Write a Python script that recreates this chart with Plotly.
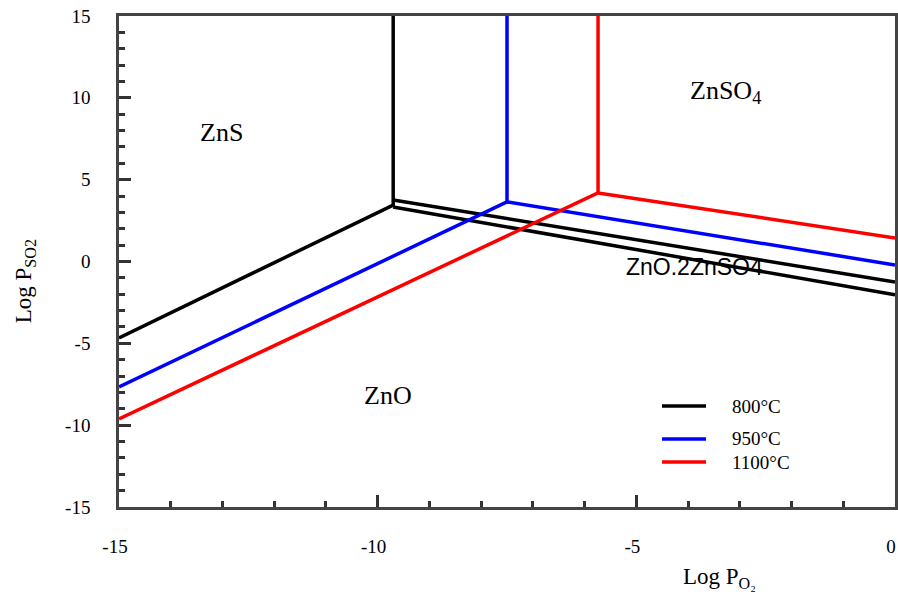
import plotly.graph_objects as go

# ---- data ----
x_left = -15.0
x_right = 0.0
y_top = 15.0

# 800 °C (black)
black_node_x = -9.70
black_diag_y = [-4.67, 3.45]      # ZnS / ZnO boundary (left end, node)
black_upper_y = [3.76, -1.25]     # upper right boundary (node, right end)
black_lower_y = [3.33, -2.04]     # lower right boundary (node, right end)

# 950 °C (blue)
blue_node_x = -7.50
blue_diag_y = [-7.66, 3.64]
blue_right_y = [3.64, -0.21]

# 1100 °C (red)
red_node_x = -5.74
red_diag_y = [-9.62, 4.19]
red_right_y = [4.19, 1.44]

series_names = ["800°C", "950°C", "1100°C"]
series_colors = ["#000000", "#0000ff", "#ff0000"]

region_labels = ["ZnS", "ZnSO<sub>4</sub>", "ZnO"]
region_x = [-13.01, -3.27, -9.80]
region_y = [7.91, 10.36, -8.21]
mixed_label = "ZnO.2ZnSO4"
mixed_x = -3.885
mixed_y = -0.33

x_ticks = [-15, -10, -5, 0]
x_ticktext = ["-15", "-10", "-5", "0"]
y_ticks = [-15, -10, -5, 0, 5, 10, 15]
y_ticktext = ["-15", "-10", "-5", "0", "5", "10", "15"]

fig = go.Figure()

def add_line(xs, ys, color, width=3.5):
    fig.add_trace(go.Scatter(x=xs, y=ys, mode="lines",
                             line=dict(color=color, width=width),
                             showlegend=False, hoverinfo="skip"))

# black
add_line([x_left, black_node_x, black_node_x], [black_diag_y[0], black_diag_y[1], y_top], series_colors[0])
add_line([black_node_x, x_right], black_upper_y, series_colors[0])
add_line([black_node_x, x_right], black_lower_y, series_colors[0])
# blue
add_line([x_left, blue_node_x, blue_node_x], [blue_diag_y[0], blue_diag_y[1], y_top], series_colors[1])
add_line([blue_node_x, x_right], blue_right_y, series_colors[1])
# red
add_line([x_left, red_node_x, red_node_x], [red_diag_y[0], red_diag_y[1], y_top], series_colors[2])
add_line([red_node_x, x_right], red_right_y, series_colors[2])

serif = "Liberation Serif"
sans = "Liberation Sans"

for t, x, y in zip(region_labels, region_x, region_y):
    fig.add_annotation(x=x, y=y, text=t, showarrow=False,
                       font=dict(family=serif, size=26, color="black"))
fig.add_annotation(x=mixed_x, y=mixed_y, text=mixed_label, showarrow=False,
                   font=dict(family=sans, size=23, color="black"))

# legend (manual)
leg_y = [0.2057, 0.1385, 0.0916]
for name, col, ly in zip(series_names, series_colors, leg_y):
    fig.add_shape(type="line", xref="paper", yref="paper",
                  x0=0.6997, x1=0.7565, y0=ly, y1=ly,
                  line=dict(color=col, width=3.5))
    fig.add_annotation(xref="paper", yref="paper", x=0.7874, y=ly, text=name,
                       xanchor="left", yanchor="middle", showarrow=False,
                       font=dict(family=serif, size=19, color="black"))

# axis titles
fig.add_annotation(xref="paper", yref="paper", x=0.774, y=-0.145,
                   text="Log P<sub>O₂</sub>", showarrow=False,
                   xanchor="center", yanchor="middle",
                   font=dict(family=serif, size=23, color="black"))
fig.add_annotation(xref="paper", yref="paper", x=-0.121, y=0.46,
                   text="Log P<sub>SO2</sub>", showarrow=False, textangle=-90,
                   xanchor="center", yanchor="middle",
                   font=dict(family=serif, size=23, color="black"))

axis_common = dict(showline=True, linecolor="#444", linewidth=2.5, mirror=True,
                   ticks="inside", ticklen=12, tickwidth=2.5, tickcolor="#333",
                   showgrid=False, zeroline=False, automargin=False,
                   ticklabeloverflow="allow",
                   tickfont=dict(family=serif, size=19, color="black"),
                   minor=dict(dtick=1, ticks="inside", ticklen=6, tickwidth=2.5,
                              tickcolor="#333", showgrid=False))

fig.update_xaxes(range=[x_left, x_right], tickvals=x_ticks, ticktext=x_ticktext,
                 ticklabelstandoff=20, ticklabelshift=-4, **axis_common)
fig.update_yaxes(range=[-15, 15], tickvals=y_ticks, ticktext=y_ticktext,
                 ticklabelstandoff=22, **axis_common)

fig.update_layout(width=898, height=597,
                  margin=dict(l=119, r=3, t=16, b=90),
                  paper_bgcolor="white", plot_bgcolor="white",
                  font=dict(family=serif),
                  showlegend=False)

fig.write_html("out.html")
